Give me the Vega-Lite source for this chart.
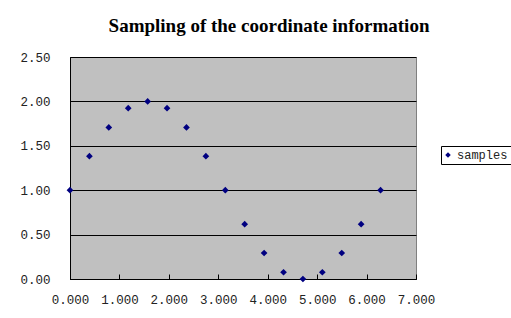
{
  "$schema": "https://vega.github.io/schema/vega-lite/v6.json",
  "autosize": {"type": "none"},
  "width": 346,
  "height": 222,
  "padding": {"left": 70, "top": 57, "right": 95, "bottom": 39},
  "background": "#ffffff",
  "title": {
    "text": "Sampling of the coordinate information",
    "font": "Liberation Serif",
    "fontSize": 19,
    "fontWeight": "bold",
    "color": "#000000",
    "anchor": "middle",
    "dx": 26,
    "offset": 15
  },
  "data": {
    "values": [
      {"x": 0.000, "y": 1.000, "series": "samples"},
      {"x": 0.393, "y": 1.383, "series": "samples"},
      {"x": 0.785, "y": 1.707, "series": "samples"},
      {"x": 1.178, "y": 1.924, "series": "samples"},
      {"x": 1.571, "y": 2.000, "series": "samples"},
      {"x": 1.963, "y": 1.924, "series": "samples"},
      {"x": 2.356, "y": 1.707, "series": "samples"},
      {"x": 2.749, "y": 1.383, "series": "samples"},
      {"x": 3.142, "y": 1.000, "series": "samples"},
      {"x": 3.534, "y": 0.617, "series": "samples"},
      {"x": 3.927, "y": 0.293, "series": "samples"},
      {"x": 4.320, "y": 0.076, "series": "samples"},
      {"x": 4.712, "y": 0.000, "series": "samples"},
      {"x": 5.105, "y": 0.076, "series": "samples"},
      {"x": 5.498, "y": 0.293, "series": "samples"},
      {"x": 5.890, "y": 0.617, "series": "samples"},
      {"x": 6.283, "y": 1.000, "series": "samples"}
    ]
  },
  "mark": {"type": "point", "shape": "diamond", "filled": true, "size": 45, "opacity": 1, "clip": false},
  "encoding": {
    "x": {
      "field": "x",
      "type": "quantitative",
      "scale": {"domain": [0, 7], "nice": false, "zero": false},
      "axis": {
        "title": null,
        "values": [0, 1, 2, 3, 4, 5, 6, 7],
        "format": ".3f",
        "grid": false,
        "domainColor": "#000000",
        "domainWidth": 1,
        "tickColor": "#000000",
        "tickSize": -5,
        "labelPadding": 19,
        "labelFont": "Liberation Mono",
        "labelFontSize": 12.5,
        "labelColor": "#222222",
        "labelFlush": false
      }
    },
    "y": {
      "field": "y",
      "type": "quantitative",
      "scale": {"domain": [0, 2.5], "nice": false, "zero": true},
      "axis": {
        "title": null,
        "values": [0, 0.5, 1, 1.5, 2, 2.5],
        "format": ".2f",
        "grid": true,
        "gridColor": "#000000",
        "gridOpacity": 1,
        "gridWidth": 1,
        "domainColor": "#000000",
        "domainWidth": 1,
        "tickColor": "#000000",
        "tickSize": -5,
        "labelPadding": 25,
        "labelFont": "Liberation Mono",
        "labelFontSize": 12.5,
        "labelColor": "#222222",
        "labelFlush": false
      }
    },
    "color": {
      "field": "series",
      "type": "nominal",
      "scale": {"range": ["#000080"]},
      "legend": {
        "title": null,
        "orient": "none",
        "legendX": 371,
        "legendY": 89,
        "symbolType": "diamond",
        "symbolSize": 30,
        "symbolStrokeWidth": 0,
        "labelFont": "Liberation Mono",
        "labelFontSize": 12,
        "labelColor": "#222222",
        "strokeColor": "#000000",
        "fillColor": "#ffffff",
        "padding": 3,
        "symbolOffset": -2,
        "labelOffset": 3
      }
    }
  },
  "config": {
    "view": {"fill": "#c0c0c0", "stroke": "#808080", "strokeWidth": 1}
  }
}
